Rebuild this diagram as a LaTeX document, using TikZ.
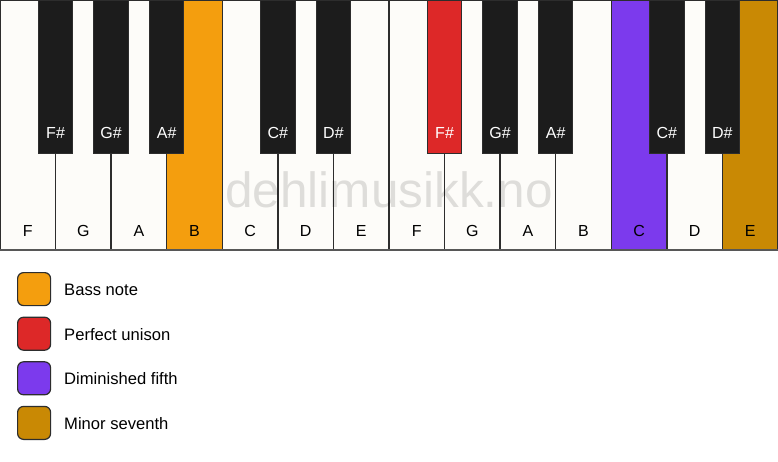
\documentclass[tikz,border=0pt]{standalone}
\usepackage{fontspec}
\setmainfont{Liberation Sans}
\definecolor{keywhite}{RGB}{253,252,249}
\definecolor{keyblack}{RGB}{28,28,28}
\definecolor{keyline}{RGB}{45,45,45}
\definecolor{bassc}{RGB}{244,158,14}
\definecolor{unisonc}{RGB}{221,40,40}
\definecolor{dimc}{RGB}{124,58,237}
\definecolor{sevc}{RGB}{201,137,4}
\begin{document}
\begin{tikzpicture}[x=1pt,y=-1pt,
  whitekey/.style={draw=keyline, line width=1.3pt, fill=keywhite, minimum width=55.57pt, minimum height=250pt, anchor=north west, inner sep=0pt, outer sep=0pt},
  blackkey/.style={draw=keyline, line width=1pt, fill=keyblack, minimum width=34.5pt, minimum height=153pt, anchor=north, inner sep=0pt, outer sep=0pt},
  wlabel/.style={anchor=base, font=\fontsize{16}{16}\selectfont, text=black, inner sep=0pt},
  blabel/.style={anchor=base, font=\fontsize{16}{16}\selectfont, text=white, inner sep=0pt},
  legbox/.style={draw=keyline, line width=1.2pt, rounded corners=6pt, minimum size=33pt, inner sep=0pt, anchor=north west},
  legtext/.style={anchor=base west, font=\fontsize{16.6}{16.6}\selectfont, inner sep=0pt},
  wmark/.style={anchor=base, font=\fontsize{49.5}{49.5}\selectfont, text=black, opacity=0.12, inner sep=0pt}]
\useasboundingbox (0,0) rectangle (778,461);
\fill[white] (0,0) rectangle (778,461);
% white keys
\foreach \i/\n/\c in {0/F/keywhite,1/G/keywhite,2/A/keywhite,3/B/bassc,4/C/keywhite,5/D/keywhite,6/E/keywhite,7/F/keywhite,8/G/keywhite,9/A/keywhite,10/B/keywhite,11/C/dimc,12/D/keywhite,13/E/sevc}{
  \node[whitekey, fill=\c] (w\i) at ({\i*55.57},0) {};
  \node[wlabel] (wl\i) at ({\i*55.57+27.8},236) {\n};
}
\draw[draw=keyline!80, line width=2pt] (w0.south west) -- (w13.south east);
% watermark
\node[wmark] (wm) at (389,207) {dehlimusikk.no};
% black keys
\foreach \i/\n/\c in {1/F\#/keyblack,2/G\#/keyblack,3/A\#/keyblack,5/C\#/keyblack,6/D\#/keyblack,8/F\#/unisonc,9/G\#/keyblack,10/A\#/keyblack,12/C\#/keyblack,13/D\#/keyblack}{
  \node[blackkey, fill=\c] (b\i) at ({\i*55.57},0) {};
  \node[blabel] (bl\i) at ({\i*55.57},138.5) {\n};
}
% legend
\foreach \k/\c/\t in {0/bassc/Bass note,1/unisonc/Perfect unison,2/dimc/Diminished fifth,3/sevc/Minor seventh}{
  \node[legbox, fill=\c] (lb\k) at (17,{272+\k*44.6}) {};
  \node[legtext] (lt\k) at (64,{272+\k*44.6+23.5}) {\t};
}
\end{tikzpicture}
\end{document}
